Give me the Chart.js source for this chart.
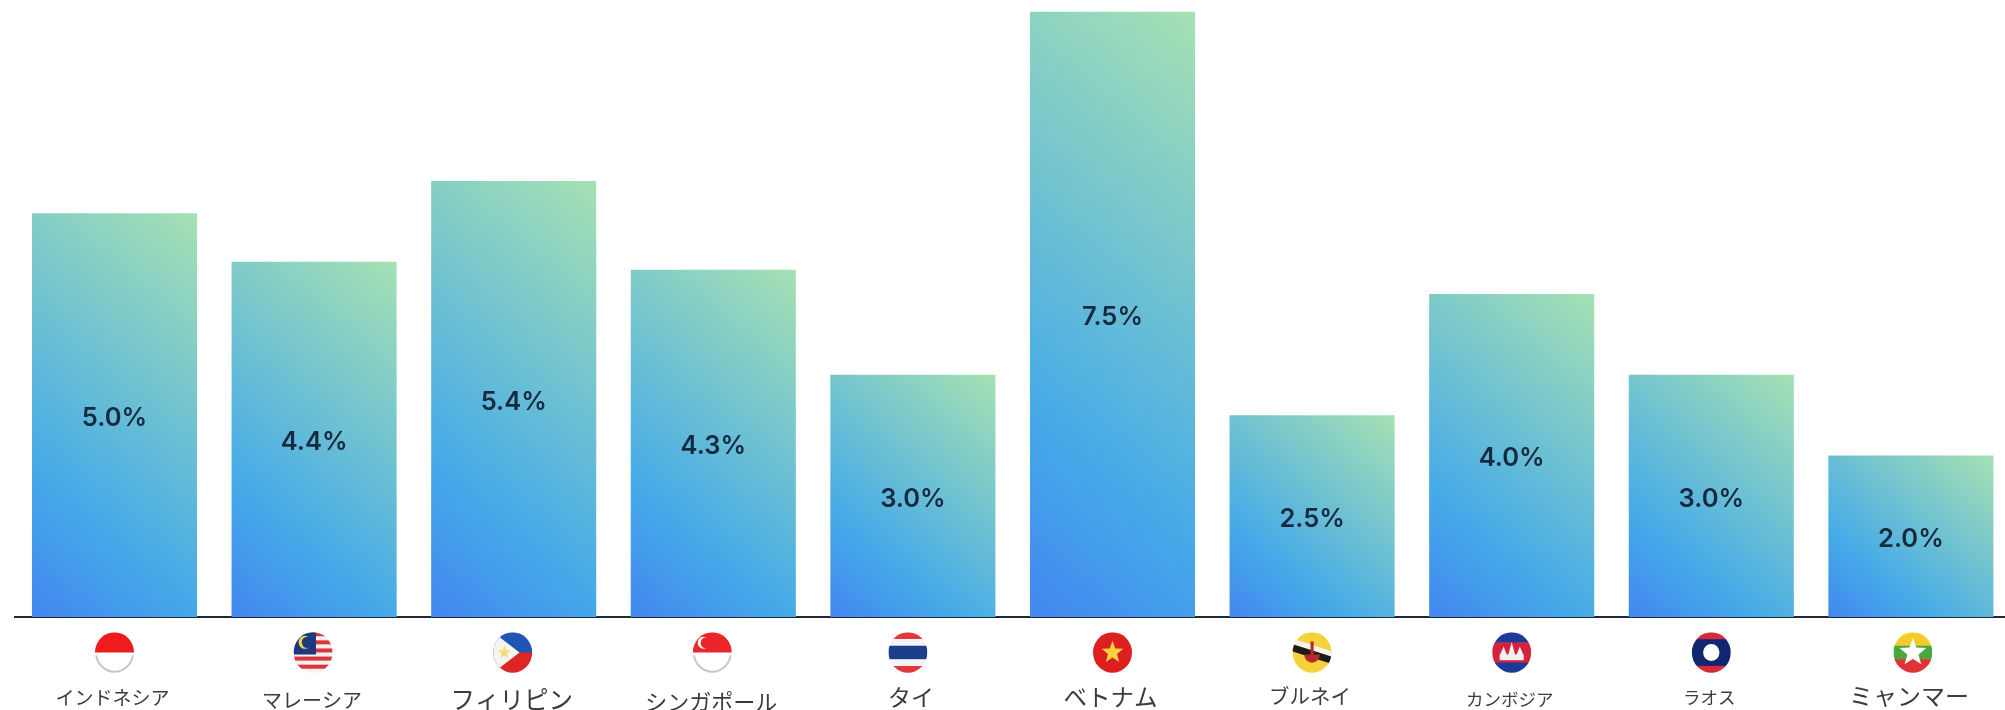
<!DOCTYPE html>
<html lang="ja">
<head>
<meta charset="utf-8">
<title>ASEAN成長率</title>
<script src="https://cdn.jsdelivr.net/npm/chart.js@4"></script>
<style>
  html, body { margin: 0; padding: 0; background: #fff; overflow: hidden; }
  #frame { width: 2005px; height: 710px; overflow: hidden; }
  canvas { display: block; }
</style>
</head>
<body>
<div id="frame"><canvas id="chart" width="2020" height="710"></canvas></div>
<script>
// Country names and growth rates
const categories = ['インドネシア', 'マレーシア', 'フィリピン', 'シンガポール', 'タイ', 'ベトナム', 'ブルネイ', 'カンボジア', 'ラオス', 'ミャンマー'];
const growthRates = [5.0, 4.4, 5.4, 4.3, 3.0, 7.5, 2.5, 4.0, 3.0, 2.0];
const flagCodes = ['id', 'my', 'ph', 'sg', 'th', 'vn', 'bn', 'kh', 'la', 'mm'];

// Per-label type size and line box (the line box sets each label's height under the axis)
const labelSizes = [19, 20, 24.5, 22, 23, 23.5, 20.5, 17.5, 17.5, 24];
const labelBoxes = [162, 166, 166, 170, 160, 160, 158, 164, 160, 158];
const flagNudges = [0, -1, -1, -1, -5, 0, 0, 0, 0, 2];

function star(ctx, cx, cy, r, color) {
  ctx.fillStyle = color;
  ctx.beginPath();
  for (let i = 0; i < 10; i++) {
    const rad = i % 2 ? r * 0.42 : r;
    const a = -Math.PI / 2 + i * Math.PI / 5;
    ctx.lineTo(cx + rad * Math.cos(a), cy + rad * Math.sin(a));
  }
  ctx.closePath();
  ctx.fill();
}

function bands(ctx, r, list) {
  let y = -r;
  list.forEach(([color, share]) => {
    ctx.fillStyle = color;
    ctx.fillRect(-r, y, 2 * r, 2 * r * share + 0.5);
    y += 2 * r * share;
  });
}

function lowerShade(ctx, r) {
  ctx.strokeStyle = '#c6c6c6';
  ctx.lineWidth = 4;
  ctx.beginPath();
  ctx.arc(0, 0, r, 0.15, Math.PI - 0.15);
  ctx.stroke();
}

// Round flag artwork, drawn around the origin inside a circle of radius r
const flagPainters = {
  id(ctx, r) {
    bands(ctx, r, [['#ee1c1c', 0.5], ['#ffffff', 0.5]]);
    lowerShade(ctx, r);
  },
  my(ctx, r) {
    const stripes = [];
    for (let i = 0; i < 10; i++) stripes.push([i % 2 ? '#f4f0f0' : '#d8383c', 0.1]);
    bands(ctx, r, stripes);
    ctx.fillStyle = '#1c3a80';
    ctx.fillRect(-r, -r, r * 1.15, r * 1.1);
    ctx.fillStyle = '#f6d545';
    ctx.beginPath();
    ctx.arc(-r * 0.42, -r * 0.5, r * 0.32, 0, 7);
    ctx.fill();
    ctx.fillStyle = '#1c3a80';
    ctx.beginPath();
    ctx.arc(-r * 0.3, -r * 0.5, r * 0.28, 0, 7);
    ctx.fill();
  },
  ph(ctx, r) {
    bands(ctx, r, [['#1f55b5', 0.5], ['#dd2727', 0.5]]);
    ctx.fillStyle = '#f5f5ef';
    ctx.beginPath();
    ctx.moveTo(-r, -r);
    ctx.lineTo(r * 0.35, 0);
    ctx.lineTo(-r, r);
    ctx.closePath();
    ctx.fill();
    star(ctx, -r * 0.42, 0, r * 0.34, '#f2dc7a');
  },
  sg(ctx, r) {
    bands(ctx, r, [['#e8262c', 0.5], ['#ffffff', 0.5]]);
    ctx.fillStyle = '#fff';
    ctx.beginPath();
    ctx.arc(-r * 0.45, -r * 0.48, r * 0.3, 0, 7);
    ctx.fill();
    ctx.fillStyle = '#e8262c';
    ctx.beginPath();
    ctx.arc(-r * 0.33, -r * 0.48, r * 0.27, 0, 7);
    ctx.fill();
    lowerShade(ctx, r);
  },
  th(ctx, r) {
    bands(ctx, r, [['#e0383c', 1 / 6], ['#f4f4f6', 1 / 6], ['#1c3f8c', 1 / 3], ['#f4f4f6', 1 / 6], ['#e0383c', 1 / 6]]);
  },
  vn(ctx, r) {
    bands(ctx, r, [['#dd1f1f', 1]]);
    star(ctx, 0, 0, r * 0.58, '#f8d23a');
  },
  bn(ctx, r) {
    bands(ctx, r, [['#f4d23c', 1]]);
    ctx.save();
    ctx.rotate(0.3);
    ctx.fillStyle = '#f4f4ee';
    ctx.fillRect(-r * 1.2, -r * 0.36, r * 2.4, r * 0.26);
    ctx.fillStyle = '#1d1a18';
    ctx.fillRect(-r * 1.2, -r * 0.1, r * 2.4, r * 0.34);
    ctx.restore();
    ctx.fillStyle = '#b8282c';
    ctx.fillRect(-r * 0.08, -r * 0.55, r * 0.16, r * 0.95);
    ctx.beginPath();
    ctx.arc(0, r * 0.1, r * 0.4, 0, Math.PI);
    ctx.fill();
  },
  kh(ctx, r) {
    bands(ctx, r, [['#1b3a9a', 0.25], ['#d4213d', 0.5], ['#1b3a9a', 0.25]]);
    ctx.fillStyle = '#f4f0f0';
    ctx.fillRect(-r * 0.62, r * 0.1, r * 1.24, r * 0.28);
    [-0.42, 0, 0.42].forEach((dx, i) => {
      const h = i === 1 ? 0.62 : 0.42;
      ctx.beginPath();
      ctx.moveTo(r * (dx - 0.18), r * 0.12);
      ctx.lineTo(r * dx, r * (0.12 - h));
      ctx.lineTo(r * (dx + 0.18), r * 0.12);
      ctx.closePath();
      ctx.fill();
    });
  },
  la(ctx, r) {
    bands(ctx, r, [['#d8283c', 0.17], ['#10266e', 0.66], ['#d8283c', 0.17]]);
    ctx.fillStyle = '#fff';
    ctx.beginPath();
    ctx.arc(0, 0, r * 0.42, 0, 7);
    ctx.fill();
  },
  mm(ctx, r) {
    bands(ctx, r, [['#f4cb2c', 1 / 3], ['#4ca83c', 1 / 3], ['#e03434', 1 / 3]]);
    star(ctx, 0, 0, r * 0.72, '#ffffff');
  }
};

// Value labels centred inside the bars, flags between the axis line and the names
const overlayPlugin = {
  id: 'overlay',
  afterDatasetsDraw(chart) {
    const { ctx } = chart;
    const bars = chart.getDatasetMeta(0).data;
    ctx.save();
    ctx.font = '600 25.5px Inter, sans-serif';
    ctx.fillStyle = '#16293f';
    ctx.textAlign = 'center';
    ctx.textBaseline = 'middle';
    bars.forEach((bar, i) => {
      const { x, y, base } = bar.getProps(['x', 'y', 'base'], true);
      ctx.fillText(growthRates[i].toFixed(1) + '%', x, (y + base) / 2 + 3);
    });
    ctx.restore();

    const xScale = chart.scales.x;
    flagCodes.forEach((code, i) => {
      const r = 19.5;
      ctx.save();
      ctx.translate(xScale.getPixelForValue(i) + flagNudges[i], xScale.top + 35.5);
      ctx.scale(1, 1.04);
      ctx.beginPath();
      ctx.arc(0, 0, r, 0, Math.PI * 2);
      ctx.clip();
      flagPainters[code](ctx, r);
      ctx.restore();
    });
  }
};

// Diagonal blue-to-green fill, computed per bar from the scales
function barGradient(context) {
  const chart = context.chart;
  const { x: xScale, y: yScale } = chart.scales;
  if (!chart.chartArea || !xScale || !yScale) return '#45aae8';
  const i = context.dataIndex;
  const half = (xScale.getPixelForValue(1) - xScale.getPixelForValue(0)) * 0.827 / 2;
  const cx = xScale.getPixelForValue(i);
  const top = yScale.getPixelForValue(growthRates[i]);
  const bottom = yScale.getPixelForValue(0);
  const w = half * 2;
  const h = bottom - top;
  const angle = 40 * Math.PI / 180;
  const s = Math.sin(angle);
  const c = Math.cos(angle);
  const len = w * s + h * c;
  const my = (top + bottom) / 2;
  const g = chart.ctx.createLinearGradient(cx - s * len / 2, my + c * len / 2, cx + s * len / 2, my - c * len / 2);
  g.addColorStop(0, '#4287f0');
  g.addColorStop(0.28, '#45aae8');
  g.addColorStop(1, '#a6e1b3');
  return g;
}

new Chart(document.getElementById('chart'), {
  type: 'bar',
  data: {
    labels: categories,
    datasets: [{
      data: growthRates,
      backgroundColor: barGradient,
      borderWidth: 0,
      barPercentage: 0.827,
      categoryPercentage: 1
    }]
  },
  options: {
    responsive: false,
    animation: false,
    layout: { padding: { left: 14.7, right: 9.3, top: 11.5, bottom: 0 } },
    plugins: { legend: { display: false }, tooltip: { enabled: false } },
    scales: {
      x: {
        grid: { display: false, drawTicks: false },
        border: { display: true, color: '#1f2a38', width: 2 },
        afterFit(scale) { scale.height = 93; },
        ticks: {
          autoSkip: false,
          maxRotation: 0,
          minRotation: 0,
          padding: 0,
          labelOffset: -2,
          color: '#3c3c3c',
          font: ctx => ({
            family: '"Noto Sans CJK JP", sans-serif',
            size: labelSizes[ctx.index],
            lineHeight: labelBoxes[ctx.index] + 'px'
          })
        }
      },
      y: { display: false, min: 0, max: 7.5 }
    }
  },
  plugins: [overlayPlugin]
});
</script>
</body>
</html>
